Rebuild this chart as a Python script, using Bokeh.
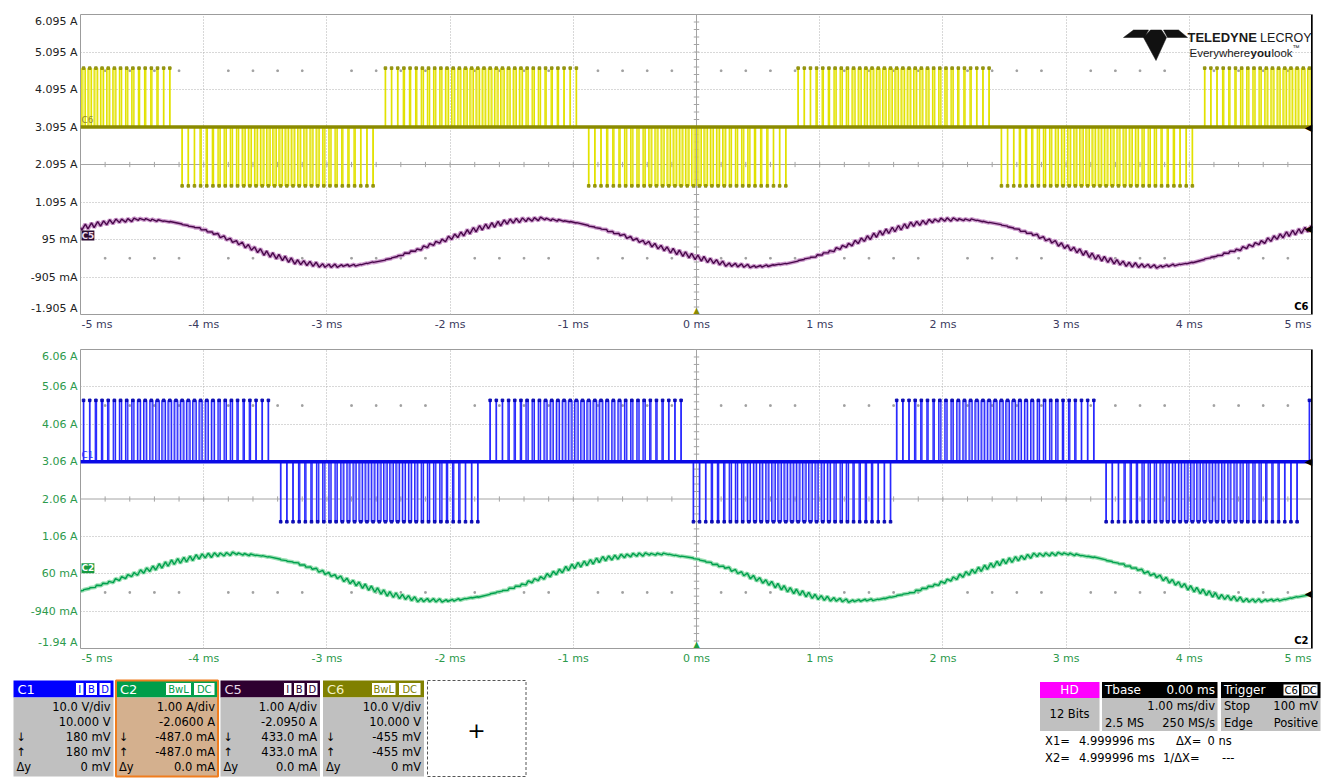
import numpy as np
from bokeh.plotting import figure
from bokeh.models import Range1d, FixedTicker, Span, Label, ColumnDataSource
from bokeh.layouts import column
from bokeh.embed import file_html
from bokeh.resources import INLINE
from bokeh.core.properties import value

# ---------------------------------------------------------------- data
X_TICKS = [-5, -4, -3, -2, -1, 0, 1, 2, 3, 4, 5]
X_LABELS = ["-5 ms", "-4 ms", "-3 ms", "-2 ms", "-1 ms", "0 ms", "1 ms", "2 ms", "3 ms", "4 ms", "5 ms"]

TOP_YTICKS = [-1.905, -0.905, 0.095, 1.095, 2.095, 3.095, 4.095, 5.095, 6.095]
TOP_YLABELS = ["-1.905 A", "-905 mA", "95 mA", "1.095 A", "2.095 A", "3.095 A", "4.095 A", "5.095 A", "6.095 A"]
BOT_YTICKS = [-1.94, -0.94, 0.06, 1.06, 2.06, 3.06, 4.06, 5.06, 6.06]
BOT_YLABELS = ["-1.94 A", "-940 mA", "60 mA", "1.06 A", "2.06 A", "3.06 A", "4.06 A", "5.06 A", "6.06 A"]

# slow (current) traces, sampled every 0.25 ms
TIME_MS = [-5.0, -4.75, -4.5, -4.25, -4.0, -3.75, -3.5, -3.25, -3.0, -2.75, -2.5, -2.25, -2.0,
           -1.75, -1.5, -1.25, -1.0, -0.75, -0.5, -0.25, 0.0, 0.25, 0.5, 0.75, 1.0, 1.25, 1.5,
           1.75, 2.0, 2.25, 2.5, 2.75, 3.0, 3.25, 3.5, 3.75, 4.0, 4.25, 4.5, 4.75, 5.0]
C5_A = [0.41, 0.57, 0.64, 0.56, 0.36, 0.04, -0.27, -0.50, -0.61, -0.59, -0.43, -0.16, 0.14,
        0.41, 0.59, 0.65, 0.56, 0.36, 0.10, -0.16, -0.38, -0.57, -0.63, -0.54, -0.32, -0.03, 0.27,
        0.50, 0.63, 0.62, 0.47, 0.21, -0.10, -0.38, -0.57, -0.63, -0.54, -0.32, -0.07, 0.20, 0.40]
C2_A = [-0.40, -0.15, 0.12, 0.37, 0.54, 0.60, 0.53, 0.35, 0.07, -0.22, -0.48, -0.64, -0.66,
        -0.55, -0.33, -0.04, 0.26, 0.46, 0.57, 0.59, 0.46, 0.21, -0.09, -0.37, -0.58, -0.67, -0.62,
        -0.44, -0.17, 0.13, 0.39, 0.56, 0.60, 0.49, 0.27, -0.02, -0.32, -0.55, -0.66, -0.64, -0.48]

# PWM bursts: polarity change times (ms) and burst polarity
C6_CROSSINGS_MS = [-5.84, -4.21, -2.57, -0.91, 0.76, 2.42, 4.08, 5.74]
C6_SIGNS = [1, -1, 1, -1, 1, -1, 1]
C1_CROSSINGS_MS = [-5.07, -3.41, -1.74, -0.08, 1.60, 3.27, 4.93, 6.58]
C1_SIGNS = [1, -1, 1, -1, 1, -1, 1]
C6_LEVELS_A = (3.095, 4.665, 1.525)   # baseline, high, low
C1_LEVELS_A = (3.06, 4.70, 1.45)
SW_PERIOD_MS = 0.05
DUTY_ENV = [0.06, 0.2, 0.36, 0.5, 0.58, 0.58, 0.5, 0.36, 0.2, 0.06]
RIPPLE_PP_A = 0.14

FONT = "DejaVu Sans"
W = 1333
FRAME_W = 1232


# ---------------------------------------------------------------- helpers
def build_pwm(crossings, signs, levels):
    base, hi, lo = levels
    out = dict(tc=[], left=[], right=[], bottom=[], top=[], base=[], lvl=[], sign=[], duty=[])
    n = int(round((X_TICKS[-1] - X_TICKS[0]) / SW_PERIOD_MS))
    for k in range(n):
        tc = X_TICKS[0] + (k + 0.5) * SW_PERIOD_MS
        i = next(j for j in range(len(signs)) if crossings[j] <= tc < crossings[j + 1])
        a, b, s = crossings[i], crossings[i + 1], signs[i]
        frac = (tc - a) / (b - a)
        if frac < 0.01 or frac > 0.99:
            continue
        d = DUTY_ENV[min(int(frac * len(DUTY_ENV)), len(DUTY_ENV) - 1)]
        w = d * SW_PERIOD_MS
        lvl = hi if s > 0 else lo
        out["tc"].append(tc)
        out["left"].append(tc - w / 2)
        out["right"].append(tc + w / 2)
        out["bottom"].append(min(base, lvl))
        out["top"].append(max(base, lvl))
        out["base"].append(base)
        out["lvl"].append(lvl)
        out["sign"].append(s)
        out["duty"].append(d)
    return out


def ripple_trace(pwm, ts, vs):
    xs, ys = [ts[0]], [vs[0]]
    dmax = max(DUTY_ENV)
    for tc, l, r, s, d in zip(pwm["tc"], pwm["left"], pwm["right"], pwm["sign"], pwm["duty"]):
        amp = RIPPLE_PP_A * d / dmax
        xs += [l, r]
        ys += [float(np.interp(l, ts, vs)) - s * amp / 2, float(np.interp(r, ts, vs)) + s * amp / 2]
    xs.append(ts[-1])
    ys.append(vs[-1])
    return xs, ys


def draw_pwm(p, pw, base, edge, fill, dot, base_col):
    src = ColumnDataSource(pw)
    p.quad(left="left", right="right", bottom="bottom", top="top", source=src,
           fill_color=fill, fill_alpha=0.85, line_color=None)
    p.segment(x0="left", y0="base", x1="left", y1="lvl", source=src, line_color=edge, line_width=1.3)
    p.segment(x0="right", y0="base", x1="right", y1="lvl", source=src, line_color=edge, line_width=1.3)
    p.line([X_TICKS[0], X_TICKS[-1]], [base, base], line_color=base_col, line_width=3.5)
    p.scatter(x="tc", y="lvl", source=src, marker="square", size=2.6, color=dot, alpha=0.85)


def scope_panel(height, b_top, b_bottom, frame_h, yticks, ylabels, ycolor, xcolor):
    lo, hi = yticks[0], yticks[-1]
    center = yticks[len(yticks) // 2]
    p = figure(width=W, height=height, x_range=Range1d(X_TICKS[0], X_TICKS[-1]),
               y_range=Range1d(lo, hi), output_backend="svg", toolbar_location=None,
               min_border_left=80, min_border_right=W - 80 - FRAME_W, min_border_top=b_top,
               min_border_bottom=b_bottom)
    p.background_fill_color = "white"
    p.border_fill_color = "white"
    p.outline_line_color = "#9c9c9c"

    # end labels sit just inside the frame edges (as the scope draws them)
    dy = 6.5 * (hi - lo) / frame_h
    y_pos = [lo + dy] + list(yticks[1:-1]) + [hi - dy]
    x_pos = [X_TICKS[0] + 16.5 * 10 / FRAME_W] + list(X_TICKS[1:-1]) + [X_TICKS[-1] - 14.5 * 10 / FRAME_W]
    p.xaxis.ticker = FixedTicker(ticks=x_pos)
    p.xaxis.major_label_overrides = dict(zip(x_pos, X_LABELS))
    p.yaxis.ticker = FixedTicker(ticks=y_pos)
    p.yaxis.major_label_overrides = dict(zip(y_pos, ylabels))
    for ax, col in ((p.xaxis, xcolor), (p.yaxis, ycolor)):
        ax.axis_line_color = None
        ax.major_tick_line_color = None
        ax.minor_tick_line_color = None
        ax.major_tick_out = 0
        ax.major_tick_in = 0
        ax.minor_tick_out = 0
        ax.major_label_standoff = 3
        ax.major_label_text_font = FONT
        ax.major_label_text_font_size = "11px"
        ax.major_label_text_color = col

    # graticule
    p.xgrid.ticker = FixedTicker(ticks=[t for t in X_TICKS[1:-1] if t != 0])
    p.ygrid.ticker = FixedTicker(ticks=[t for t in yticks[1:-1] if t != center])
    p.grid.grid_line_color = "#b0b0b0"
    p.grid.grid_line_dash = "1 2"
    p.add_layout(Span(location=0, dimension="height", line_color="#a4a4a4", line_width=1, level="underlay"))
    p.add_layout(Span(location=center, dimension="width", line_color="#a4a4a4", line_width=1, level="underlay"))
    fine_x = [round(X_TICKS[0] + 0.2 * i, 3) for i in range(51)]
    fine_y = [center + 0.2 * i for i in range(-20, 21)]
    p.segment(x0=fine_x, x1=fine_x, y0=[center - 0.07] * len(fine_x), y1=[center + 0.07] * len(fine_x),
              line_color="#a4a4a4", line_width=1)
    p.segment(x0=[-0.022] * len(fine_y), x1=[0.022] * len(fine_y), y0=fine_y, y1=fine_y,
              line_color="#a4a4a4", line_width=1)
    dot_x = [x for x in fine_x if abs(x - round(x)) > 1e-6]
    for yy in (center + 2.5, center - 2.5):
        p.scatter(x=dot_x, y=[yy] * len(dot_x), marker="square", size=1.6, color="#a0a0a0")
    return p


def marker(p, x, y, text, align, base, color, xo=0, yo=0, size="9px", style="normal", bg=None):
    p.add_layout(Label(x=x, y=y, x_offset=xo, y_offset=yo, text=text, text_align=align,
                       text_baseline=base, text_font=FONT, text_font_size=size,
                       text_font_style=style, text_color=color, background_fill_color=bg))


# ---------------------------------------------------------------- top panel (C6 / C5)
top = scope_panel(342, 14, 28, 300, TOP_YTICKS, TOP_YLABELS, "#222222", "#3a3a5e")
c6 = build_pwm(C6_CROSSINGS_MS, C6_SIGNS, C6_LEVELS_A)
draw_pwm(top, c6, C6_LEVELS_A[0], "#e2e200", "#eded62", "#8c8c00", "#8a8a00")
c5x, c5y = ripple_trace(c6, TIME_MS, C5_A)
top.line(c5x, c5y, line_color="#c890c8", line_width=4, line_alpha=0.9)
top.line(c5x, c5y, line_color="#48084a", line_width=1.4)


# logo (page pixel positions converted to the panel's data space)
def tx(px):
    return -5 + (px - 80) / 123.2


def ty(py):
    return 6.095 - (py - 14) / 37.5


logo_polys = [
    [(1123, 37), (1133, 29.5), (1148, 29.5), (1144, 37)],
    [(1163, 29.5), (1178, 29.5), (1187, 37), (1167, 37)],
    [(1150, 29.5), (1161, 29.5), (1166, 37), (1155.5, 60), (1143, 37)],
]
top.patches(xs=[[tx(a) for a, b in poly] for poly in logo_polys],
            ys=[[ty(b) for a, b in poly] for poly in logo_polys],
            fill_color="#111111", line_color="#111111", line_width=0.5)
for txt, px, py, al, st, sz in (("TELEDYNE", 1187, 37, "left", "bold", "13px"),
                                ("LECROY", 1311, 37, "right", "normal", "12.5px"),
                                ("Everywhere", 1189, 52, "left", "normal", "11.5px"),
                                ("you", 1250, 52, "left", "bold", "11.5px"),
                                ("look", 1271, 52, "left", "normal", "11.5px"),
                                ("™", 1292, 47, "left", "normal", "7px")):
    top.add_layout(Label(x=tx(px), y=ty(py), text=txt, text_align=al, text_baseline="middle",
                         text_font="Liberation Sans", text_font_style=st, text_font_size=sz,
                         text_color="#1a1a1a"))

# channel / trigger / cursor markers (kept inside the frame, which clips annotations)
marker(top, X_TICKS[0], C6_LEVELS_A[0], "C6", "left", "bottom", "#8f8a2a", xo=1, yo=2)
marker(top, X_TICKS[0], 0.2, "C5", "left", "middle", "#ecdcec", xo=1, style="bold", bg="#2a0a30")
marker(top, 0, TOP_YTICKS[0], "▲", "center", "bottom", "#8a8a00", size="8px")
for yy in (C6_LEVELS_A[0], C5_A[-1]):
    marker(top, X_TICKS[-1], yy, "◀", "right", "middle", "#000000", size="10px")
marker(top, X_TICKS[-1], TOP_YTICKS[0], "C6", "right", "bottom", "#000000", xo=-4, yo=3,
       size="10px", style="bold")
top.add_layout(Span(location=4.999996, dimension="height", line_color="#000000", line_width=3,
                    level="overlay"))

# ---------------------------------------------------------------- bottom panel (C1 / C2)
bot = scope_panel(333, 7, 27, 299, BOT_YTICKS, BOT_YLABELS, "#2c9a4c", "#2c9a4c")
c1 = build_pwm(C1_CROSSINGS_MS, C1_SIGNS, C1_LEVELS_A)
draw_pwm(bot, c1, C1_LEVELS_A[0], "#2a2aff", "#9a9aff", "#0000b0", "#0a0ae6")
c2x, c2y = ripple_trace(c1, TIME_MS, C2_A)
bot.line(c2x, c2y, line_color="#8edcaa", line_width=4, line_alpha=0.9)
bot.line(c2x, c2y, line_color="#00a04e", line_width=1.4)

marker(bot, X_TICKS[0], C1_LEVELS_A[0], "C1", "left", "bottom", "#3030ff", xo=1, yo=2)
marker(bot, X_TICKS[0], 0.21, "C2", "left", "middle", "#ffffff", xo=1, style="bold", bg="#179a40")
marker(bot, 0, BOT_YTICKS[0], "▲", "center", "bottom", "#20a040", size="8px")
for yy in (C1_LEVELS_A[0], C2_A[-1]):
    marker(bot, X_TICKS[-1], yy, "◀", "right", "middle", "#000000", size="10px")
marker(bot, X_TICKS[-1], BOT_YTICKS[0], "C2", "right", "bottom", "#000000", xo=-4, yo=3,
       size="10px", style="bold")
bot.add_layout(Span(location=4.999996, dimension="height", line_color="#000000", line_width=3,
                    level="overlay"))

# ---------------------------------------------------------------- info strip (page pixel space)
info = figure(width=W, height=106, x_range=Range1d(0, W), y_range=Range1d(781, 675),
              output_backend="svg", toolbar_location=None, x_axis_type=None, y_axis_type=None,
              min_border=0, min_border_left=0, min_border_right=0, min_border_top=0,
              min_border_bottom=0)
info.frame_align = False
info.outline_line_color = None
info.background_fill_color = "white"
info.border_fill_color = "white"


def put(x, y, s, align="left", color="#000000", size="11.5px", style="normal"):
    info.text(x=[x], y=[y], text=[s], text_align=align, text_baseline="middle", text_color=color,
              text_font=value(FONT), text_font_size=value(size), text_font_style=style)


def box(x0, x1, y0, y1, fill, line=None, lw=1, dash="solid"):
    info.quad(left=[x0], right=[x1], top=[y0], bottom=[y1], fill_color=fill, line_color=line,
              line_width=lw, line_dash=dash)


CHANNELS = [
    ("C1", 13, 113, "#0000ff", "#c0c0c0", "#ffffff", [("I", 75, 83.5), ("B", 85, 97), ("D", 98.5, 110.5)],
     ["10.0 V/div", "10.000 V", "180 mV", "180 mV", "0 mV"]),
    ("C2", 115.5, 217.5, "#009e4a", "#d4b08e", "#ffffff", [("BwL", 165, 191), ("DC", 193, 214.5)],
     ["1.00 A/div", "-2.0600 A", "-487.0 mA", "-487.0 mA", "0.0 mA"]),
    ("C5", 220, 319.5, "#2e0030", "#c0c0c0", "#e8d8e8", [("I", 283, 291.5), ("B", 293, 304.5), ("D", 306, 317.5)],
     ["1.00 A/div", "-2.0950 A", "433.0 mA", "433.0 mA", "0.0 mA"]),
    ("C6", 322.5, 423.5, "#808000", "#c0c0c0", "#f4f4c8", [("BwL", 371, 395.5), ("DC", 398, 420.5)],
     ["10.0 V/div", "10.000 V", "-455 mV", "-455 mV", "0 mV"]),
]
ROWS_Y = [706.5, 721.5, 736.5, 751.5, 766.5]
for name, x0, x1, head, body, tcol, badges, lines in CHANNELS:
    box(x0, x1, 680, 697, head)
    box(x0, x1, 697, 776, body)
    put(x0 + 4, 688.5, name, color=tcol, size="13px")
    for lab, bx0, bx1 in badges:
        box(bx0, bx1, 682, 695, "#ffffff", line=head)
        put((bx0 + bx1) / 2, 688.5, lab, align="center", color=head, size="10px")
    for yy, s in zip(ROWS_Y, lines):
        put(x1 - 3, yy, s, align="right")
    for yy, s in zip(ROWS_Y[2:], ["↓", "↑", "Δy"]):
        put(x0 + 3, yy, s)
    if name == "C2":
        box(x0, x1, 680, 776, None, line="#f07d1e", lw=2)

box(427, 525.5, 680, 776, "#ffffff", line="#555555", dash="3 2")
put(476, 729, "+", align="center", size="22px")

# HD
box(1039.5, 1099, 681.5, 697.5, "#ff00ff")
box(1039.5, 1099, 697.5, 730.5, "#c0c0c0")
put(1069, 689.5, "HD", align="center", color="#ffffff", size="12px")
put(1069, 713.5, "12 Bits", align="center")
# Tbase
box(1101.5, 1217, 681.5, 697.5, "#000000")
box(1101.5, 1217, 697.5, 730.5, "#c0c0c0")
put(1104.5, 689.5, "Tbase", color="#ffffff", size="12px")
put(1214.5, 689.5, "0.00 ms", align="right", color="#ffffff", size="12px")
put(1214.5, 705, "1.00 ms/div", align="right")
put(1104.5, 722, "2.5 MS")
put(1214.5, 722, "250 MS/s", align="right")
# Trigger
box(1220.5, 1320, 681.5, 697.5, "#000000")
box(1220.5, 1320, 697.5, 730.5, "#c0c0c0")
put(1223.5, 689.5, "Trigger", color="#ffffff", size="12px")
for lab, bx0, bx1 in (("C6", 1282.5, 1299), ("DC", 1300.5, 1317.5)):
    box(bx0, bx1, 683.5, 695.5, "#ffffff", line="#000000")
    put((bx0 + bx1) / 2, 689.5, lab, align="center", size="10px")
put(1223.5, 705, "Stop")
put(1317.5, 705, "100 mV", align="right")
put(1223.5, 722, "Edge")
put(1317.5, 722, "Positive", align="right")
# cursors
put(1044.5, 740.5, "X1=")
put(1078.5, 740.5, "4.999996 ms")
put(1175.5, 740.5, "ΔX=")
put(1207, 740.5, "0 ns")
put(1044.5, 757, "X2=")
put(1078.5, 757, "4.999996 ms")
put(1162.5, 757, "1/ΔX=")
put(1221.5, 757, "---")

layout = column(top, bot, info)
open("out.html", "w").write(file_html(layout, INLINE))
